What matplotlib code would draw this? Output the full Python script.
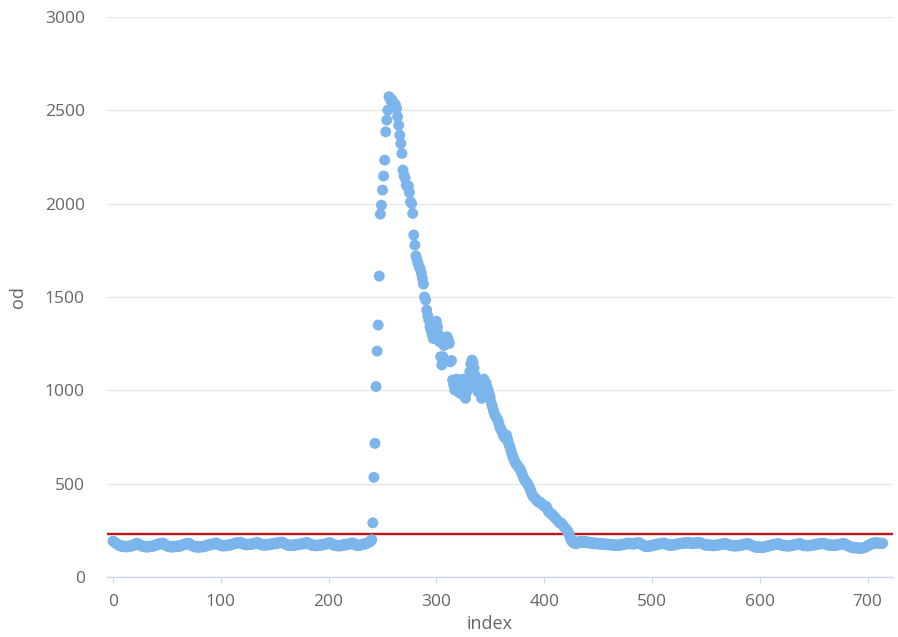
import numpy as np
import matplotlib
matplotlib.use('agg')
import matplotlib.pyplot as plt

# od readings, one per index
od_before = [
    192, 188, 183, 180, 176, 171, 169, 166, 168, 163, 165, 162, 164, 161, 166, 163, 167, 165, 170, 168, 174, 176, 181, 178,
    175, 171, 168, 166, 163, 165, 161, 163, 160, 164, 162, 165, 163, 167, 166, 170, 172, 175, 173, 178, 180, 177, 182, 179,
    174, 170, 167, 165, 162, 164, 160, 163, 161, 165, 162, 164, 166, 163, 168, 167, 171, 174, 172, 177, 179, 176, 181, 178,
    173, 170, 166, 164, 161, 163, 160, 162, 159, 163, 161, 164, 162, 166, 165, 169, 171, 173, 175, 172, 177, 179, 176, 180,
    182, 178, 174, 171, 168, 170, 166, 169, 167, 171, 168, 172, 170, 174, 173, 176, 178, 181, 179, 183, 185, 182, 186, 184,
    180, 177, 174, 176, 172, 175, 173, 177, 174, 178, 176, 180, 179, 183, 185, 182, 178, 175, 172, 174, 170, 173, 171, 175,
    172, 176, 174, 178, 176, 180, 178, 182, 180, 184, 182, 186, 184, 187, 183, 180, 176, 173, 170, 172, 169, 171, 168, 172,
    170, 173, 171, 175, 173, 177, 175, 179, 177, 181, 179, 183, 185, 182, 178, 174, 171, 169, 172, 168, 170, 167, 171, 169,
    172, 170, 174, 172, 176, 175, 178, 180, 182, 184, 181, 177, 173, 170, 168, 171, 167, 169, 166, 170, 168, 172, 170, 174,
    172, 176, 174, 178, 177, 180, 182, 180, 176, 172, 169, 171, 168, 170, 172, 175, 174, 178, 176, 180, 182, 185, 188, 192,
]

od_event = [
    200, 290, 534, 716, 1020, 1210, 1350, 1612, 1944, 1992, 2073, 2148, 2233, 2385, 2448, 2501,
    2573, 2565, 2550, 2555, 2540, 2520, 2530, 2510, 2466, 2420, 2367, 2322, 2269, 2180, 2150, 2137,
    2100, 2090, 2095, 2060, 2010, 2001, 1948, 1832, 1778, 1720, 1700, 1680, 1662, 1650, 1628, 1600,
    1569, 1500, 1484, 1430, 1400, 1377, 1340, 1323, 1300, 1278, 1330, 1359, 1370, 1340, 1300, 1260,
    1180, 1136, 1180, 1240, 1270, 1250, 1287, 1270, 1252, 1153, 1160, 1055, 1030, 1002, 1050, 1060,
    1020, 990, 984, 1000, 1030, 1060, 970, 957, 990, 1020, 1060, 1100, 1140, 1162, 1150, 1119,
    1080, 1037, 1000, 990, 1050, 1040, 957, 1055, 1060, 1030, 1040, 1019, 1000, 980, 960, 930,
    912, 890, 870, 860, 850, 841, 820, 800, 790, 778, 760, 750, 743, 760, 740, 716,
    700, 680, 660, 644, 630, 615, 605, 600, 590, 580, 575, 560, 545, 530, 520, 510,
    505, 495, 484, 470, 455, 440, 430, 425, 420, 412, 405, 400, 402, 395, 390, 385,
    380, 378, 377, 365, 350, 345, 340, 335, 332, 325, 318, 312, 305, 298, 292, 290,
    288, 280, 272, 265, 258, 250, 243, 230, 215, 198, 190, 185, 180, 182, 178,
]

od_after = [
    185, 190, 188, 192, 186, 189, 184, 191, 187, 183, 186, 182, 185, 180, 183, 179, 182, 178, 181, 177, 180, 176, 179, 175,
    178, 174, 177, 173, 176, 172, 175, 171, 174, 170, 173, 169, 172, 168, 171, 170, 174, 172, 176, 174, 178, 176, 180, 182,
    179, 181, 177, 180, 176, 178, 181, 183, 180, 184, 181, 177, 173, 169, 166, 163, 165, 162, 166, 164, 168, 167, 171, 170,
    174, 172, 176, 175, 178, 177, 180, 179, 182, 180, 177, 174, 171, 173, 169, 172, 170, 174, 172, 176, 175, 178, 177, 180,
    179, 182, 180, 183, 181, 184, 182, 185, 183, 181, 179, 182, 180, 183, 181, 184, 182, 185, 183, 181, 178, 175, 172, 174,
    170, 173, 169, 172, 168, 171, 167, 170, 168, 172, 170, 174, 172, 176, 174, 178, 177, 180, 178, 175, 172, 169, 171, 167,
    170, 166, 169, 165, 168, 167, 171, 169, 173, 171, 175, 174, 178, 176, 179, 177, 174, 171, 168, 165, 162, 160, 163, 159,
    162, 158, 161, 157, 160, 159, 163, 162, 166, 165, 169, 168, 172, 171, 175, 174, 177, 176, 179, 177, 174, 171, 168, 170,
    167, 169, 166, 168, 165, 167, 170, 168, 172, 171, 175, 174, 177, 176, 179, 177, 174, 171, 168, 170, 167, 169, 166, 168,
    170, 169, 172, 171, 174, 173, 176, 175, 178, 177, 180, 179, 181, 180, 177, 174, 171, 173, 170, 172, 169, 171, 168, 172,
    170, 174, 172, 176, 175, 178, 176, 179, 177, 174, 170, 167, 164, 161, 158, 160, 156, 158, 155, 157, 154, 156, 153, 155,
    157, 155, 158, 160, 163, 166, 170, 173, 176, 178, 180, 182, 184, 182, 181, 183, 180, 182, 179, 181,
]

threshold = 233
x_ticks = [0, 100, 200, 300, 400, 500, 600, 700]
y_ticks = [0, 500, 1000, 1500, 2000, 2500, 3000]

od = np.array(od_before + od_event + od_after)
index = np.arange(len(od))

plt.rcParams['font.family'] = ['Open Sans', 'DejaVu Sans']

W, H = 898, 637
fig = plt.figure(figsize=(W / 100, H / 100), dpi=100)
ax = fig.add_axes([107 / W, 1 - 577 / H, (893 - 107) / W, (577 - 17) / H])

ax.axhline(threshold, color='#c0141c', lw=1.7, zorder=2)
ax.scatter(index, od, s=62, color='#7cb5ec', edgecolors='none', zorder=3, clip_on=False)

ax.set_xlim(-5.6, 723.6)
ax.set_ylim(0, 3000)
ax.set_xticks(x_ticks)
ax.set_yticks(y_ticks)

ax.grid(axis='y', color='#e6e6e6', lw=1, zorder=0)
ax.set_axisbelow(True)
for side in ['top', 'right', 'left']:
    ax.spines[side].set_visible(False)
ax.spines['bottom'].set_color('#ccd6eb')
ax.spines['bottom'].set_linewidth(1)

ax.tick_params(axis='x', length=4, color='#ccd6eb', pad=8, labelsize=12.5, labelcolor='#666666')
ax.tick_params(axis='y', length=0, pad=16, labelsize=12.5, labelcolor='#666666')

fig.text(18 / W, 1 - 297 / H, 'od', rotation=90, ha='center', va='center', fontsize=13, color='#666666')
fig.text(490 / W, 1 - 624 / H, 'index', ha='center', va='center', fontsize=13, color='#666666')

fig.savefig('out.png', dpi=100)
